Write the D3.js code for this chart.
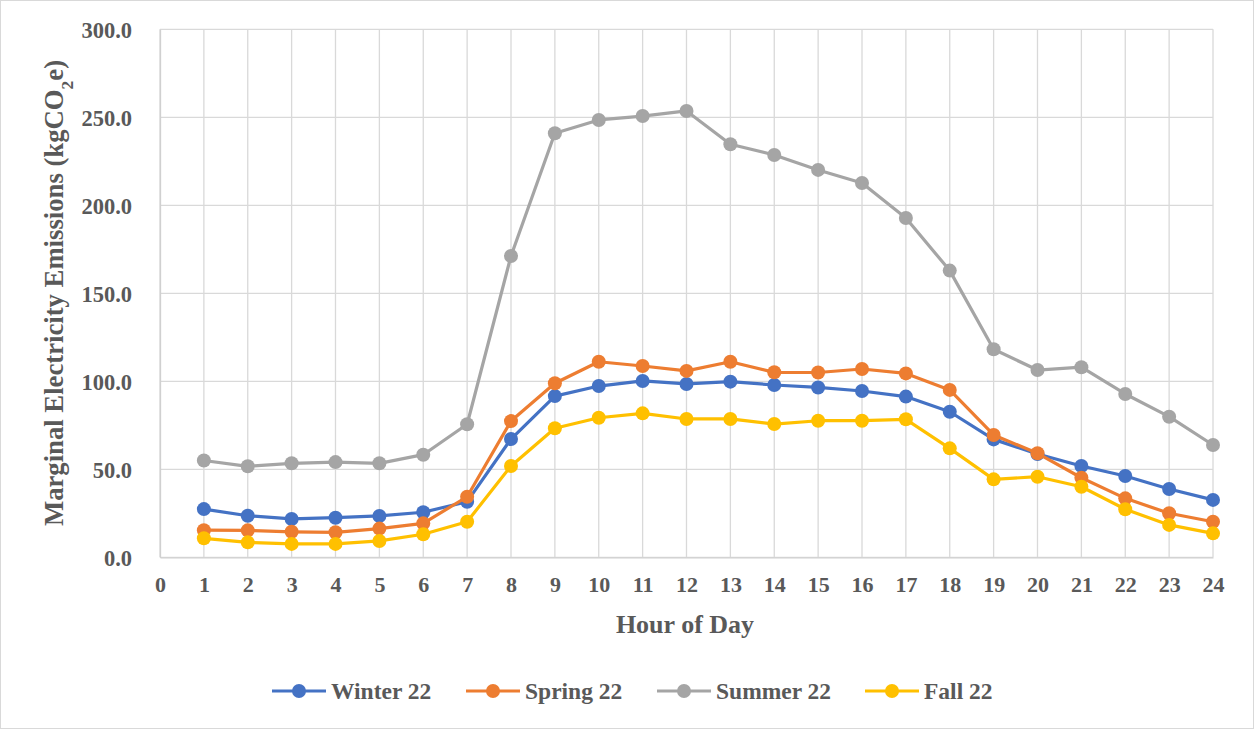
<!DOCTYPE html>
<html>
<head>
<meta charset="utf-8">
<script src="https://cdn.jsdelivr.net/npm/d3@7"></script>
<style>
  html, body { margin: 0; padding: 0; background: #fff; }
  svg { display: block; }
  text { font-family: "Liberation Serif", "Times New Roman", serif; font-weight: bold; fill: #595959; }
</style>
</head>
<body>
<svg id="chart" width="1254" height="729"></svg>
<script>
// Hour of day (x) and marginal emissions per season (kgCO2e)
const hours = d3.range(1, 25);
const xTicks = d3.range(0, 25);
const yTicks = [0, 50, 100, 150, 200, 250, 300];

const winter22 = [27.4, 23.6, 21.8, 22.5, 23.5, 25.6, 31.6, 67.2, 91.6, 97.3, 100.2, 98.5,
                  99.8, 97.9, 96.5, 94.5, 91.3, 82.7, 67.0, 58.7, 51.9, 46.2, 38.8, 32.6];
const spring22 = [15.4, 15.3, 14.5, 14.2, 16.3, 19.3, 34.4, 77.4, 98.9, 111.1, 108.7, 105.9,
                  111.1, 105.1, 105.0, 107.0, 104.5, 95.1, 69.5, 59.1, 45.2, 33.5, 25.0, 20.2];
const summer22 = [55.0, 51.7, 53.4, 54.1, 53.4, 58.3, 75.6, 171.2, 240.9, 248.5, 250.7, 253.6,
                  234.7, 228.6, 220.1, 212.7, 192.8, 162.9, 118.2, 106.4, 108.0, 92.8, 79.9, 63.8];
const fall22   = [10.8, 8.5, 7.6, 7.6, 9.3, 13.1, 20.2, 51.9, 73.3, 79.3, 81.8, 78.6,
                  78.6, 75.7, 77.6, 77.6, 78.4, 61.9, 44.3, 45.8, 40.1, 27.3, 18.4, 13.6];

const seriesNames = ["Winter 22", "Spring 22", "Summer 22", "Fall 22"];
const seriesValues = [winter22, spring22, summer22, fall22];
const seriesColors = ["#4472C4", "#ED7D31", "#A5A5A5", "#FFC000"];

const svg = d3.select("#chart");
const W = 1254, H = 729;

// outer chart border
svg.append("rect")
  .attr("x", 0.5).attr("y", 0.5)
  .attr("width", W - 1).attr("height", H - 1)
  .attr("fill", "#fff").attr("stroke", "#d9d9d9").attr("stroke-width", 1);

const plot = { left: 160, right: 1213, top: 29.3, bottom: 557.3 };

const x = d3.scaleLinear().domain([0, 24]).range([plot.left, plot.right]);
const y = d3.scaleLinear().domain([0, 300]).range([plot.bottom, plot.top]);

// gridlines
const grid = svg.append("g").attr("class", "grid");
grid.selectAll("line.v").data(xTicks).join("line")
  .attr("x1", d => x(d)).attr("x2", d => x(d))
  .attr("y1", plot.top).attr("y2", plot.bottom)
  .attr("stroke", "#d9d9d9").attr("stroke-width", 1.3);
grid.selectAll("line.h").data(yTicks).join("line")
  .attr("x1", plot.left).attr("x2", plot.right)
  .attr("y1", d => y(d)).attr("y2", d => y(d))
  .attr("stroke", "#d9d9d9").attr("stroke-width", 1.3);

// axes (labels only; lines come from the grid)
const xAxis = svg.append("g")
  .attr("transform", `translate(0,${plot.bottom})`)
  .call(d3.axisBottom(x).tickValues(xTicks).tickSize(0).tickPadding(0).tickFormat(d3.format("d")));
xAxis.select(".domain").attr("stroke", "#d0d0d0").attr("stroke-width", 1.3);
xAxis.selectAll("text")
  .attr("y", 35).attr("dy", null)
  .style("font-size", "22px").style("font-family", null).attr("fill", "#595959");

const yAxis = svg.append("g")
  .attr("transform", `translate(${plot.left},0)`)
  .call(d3.axisLeft(y).tickValues(yTicks).tickSize(0).tickPadding(0).tickFormat(d3.format(".1f")));
yAxis.select(".domain").attr("stroke", "#d0d0d0").attr("stroke-width", 1.3);
yAxis.selectAll("text")
  .attr("x", -28).attr("dy", "0.35em")
  .style("font-size", "22.5px").style("font-family", null).attr("fill", "#595959");
svg.selectAll(".tick line").remove();

// axis titles
svg.append("text")
  .attr("x", 685).attr("y", 632.5)
  .attr("text-anchor", "middle")
  .style("font-size", "26px")
  .text("Hour of Day");

const yTitle = svg.append("text")
  .attr("transform", "translate(63,293) rotate(-90)")
  .attr("text-anchor", "middle")
  .style("font-size", "26.7px");
yTitle.append("tspan").text("Marginal Electricity Emissions (kgCO");
yTitle.append("tspan").attr("baseline-shift", "sub").style("font-size", "17.5px").text("2");
yTitle.append("tspan").text("e)");

// series lines and markers
const line = d3.line().x((d, i) => x(hours[i])).y(d => y(d));
seriesValues.forEach((vals, k) => {
  const g = svg.append("g").attr("class", "series");
  g.append("path")
    .datum(vals)
    .attr("d", line)
    .attr("fill", "none")
    .attr("stroke", seriesColors[k])
    .attr("stroke-width", 3.2)
    .attr("stroke-linejoin", "round");
  g.selectAll("circle").data(vals).join("circle")
    .attr("cx", (d, i) => x(hours[i]))
    .attr("cy", d => y(d))
    .attr("r", 7)
    .attr("fill", seriesColors[k]);
});

// legend
const legendX = [272, 466, 657, 865];
const legendY = 691;
const legend = svg.append("g").attr("class", "legend");
seriesNames.forEach((name, k) => {
  const g = legend.append("g").attr("transform", `translate(${legendX[k]},${legendY})`);
  g.append("line")
    .attr("x1", 0).attr("x2", 54).attr("y1", 0).attr("y2", 0)
    .attr("stroke", seriesColors[k]).attr("stroke-width", 3.2);
  g.append("circle").attr("cx", 27).attr("cy", 0).attr("r", 7).attr("fill", seriesColors[k]);
  g.append("text")
    .attr("x", 59).attr("y", 0).attr("dy", "0.35em")
    .style("font-size", "23.5px")
    .text(name);
});
</script>
</body>
</html>
